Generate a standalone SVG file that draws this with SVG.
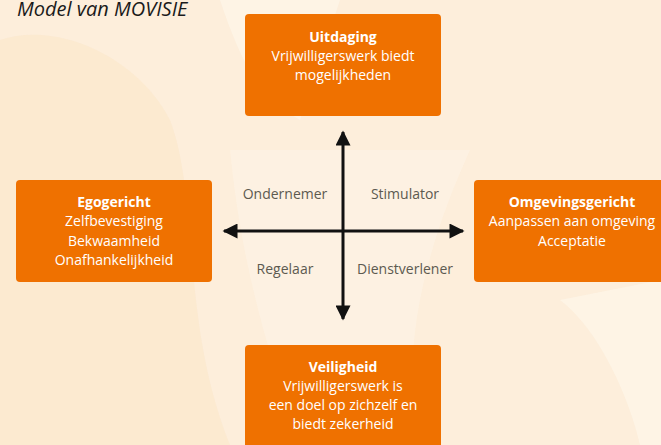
<svg xmlns="http://www.w3.org/2000/svg" width="661" height="445" viewBox="0 0 661 445">
<defs>
<marker id="ah" viewBox="0 0 10 10" refX="9" refY="5" markerWidth="5.5" markerHeight="5" orient="auto-start-reverse" markerUnits="strokeWidth">
<path d="M0,0 L10,5 L0,10 z" fill="#111"/>
</marker>
<style>
.box{fill:#ef7100}
.t{font-family:"Open Sans","Noto Sans",sans-serif;font-size:14px;fill:#ffffff;text-anchor:middle}
.b{font-weight:bold}
.q{font-family:"Open Sans","Noto Sans",sans-serif;font-size:14px;fill:#5c5a50;text-anchor:middle}
.ax{stroke:#111;stroke-width:3;fill:none}
</style>
</defs>
<rect width="661" height="445" fill="#fdeedb"/>
<path d="M0,40 C60,20 140,60 170,120 C200,200 180,320 230,445 L0,445 Z" fill="#fbe5c6" opacity="0.5"/>
<path d="M220,0 C240,60 260,100 300,120 L340,0 Z" fill="#fef6ea" opacity="0.7"/>
<path d="M230,150 C240,250 260,330 300,445 L420,445 C400,360 420,260 470,150 Z" fill="#fef4e6" opacity="0.6"/>
<path d="M560,300 C600,330 630,400 640,445 L661,445 L661,280 Z" fill="#fef6ea" opacity="0.7"/>
<text x="17" y="16" font-family="'Open Sans','Noto Sans',sans-serif" font-size="20" font-style="italic" fill="#1a1a1a">Model van MOVISIE</text>
<g id="connectors">
<line class="ax" x1="343" y1="319" x2="343" y2="132" marker-end="url(#ah)" marker-start="url(#ah)"/>
<line class="ax" x1="224" y1="231" x2="463" y2="231" marker-end="url(#ah)" marker-start="url(#ah)"/>
</g>
<g id="quadrant-labels">
<text class="q" x="285" y="199">Ondernemer</text>
<text class="q" x="405" y="199">Stimulator</text>
<text class="q" x="285" y="274">Regelaar</text>
<text class="q" x="405" y="274">Dienstverlener</text>
</g>
<g id="uitdaging">
<rect class="box" x="245" y="14" width="196" height="102" rx="4"/>
<text class="t b" x="343" y="42">Uitdaging</text>
<text class="t" x="343" y="61">Vrijwilligerswerk biedt</text>
<text class="t" x="343" y="80">mogelijkheden</text>
</g>
<g id="egogericht">
<rect class="box" x="16" y="180" width="196" height="102" rx="4"/>
<text class="t b" x="114" y="207">Egogericht</text>
<text class="t" x="114" y="226">Zelfbevestiging</text>
<text class="t" x="114" y="246">Bekwaamheid</text>
<text class="t" x="114" y="265">Onafhankelijkheid</text>
</g>
<g id="omgevingsgericht">
<rect class="box" x="474" y="180" width="200" height="102" rx="4"/>
<text class="t b" x="572" y="207">Omgevingsgericht</text>
<text class="t" x="572" y="226">Aanpassen aan omgeving</text>
<text class="t" x="572" y="246">Acceptatie</text>
</g>
<g id="veiligheid">
<rect class="box" x="245" y="345" width="196" height="110" rx="4"/>
<text class="t b" x="343" y="372">Veiligheid</text>
<text class="t" x="343" y="391">Vrijwilligerswerk is</text>
<text class="t" x="343" y="410">een doel op zichzelf en</text>
<text class="t" x="343" y="429">biedt zekerheid</text>
</g>
</svg>
